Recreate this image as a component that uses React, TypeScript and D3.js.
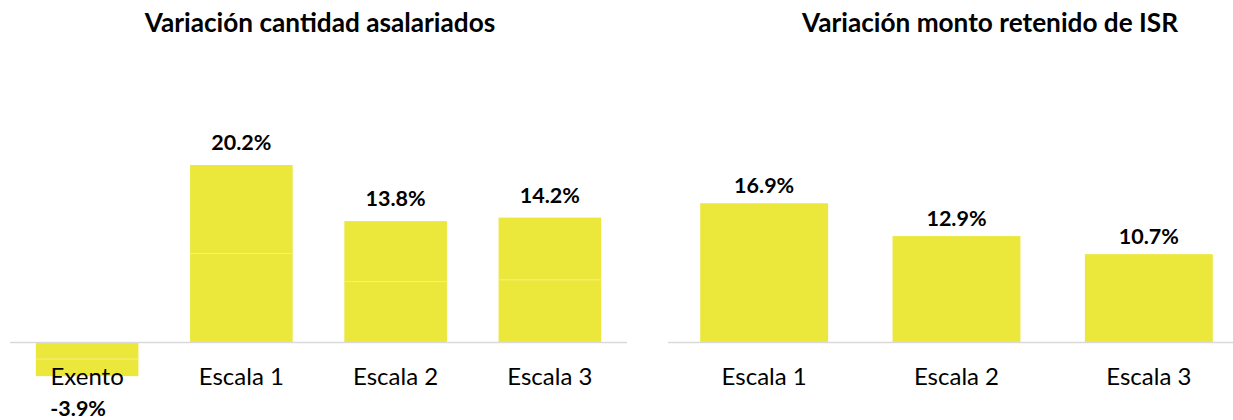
import React from "react";
import * as d3 from "d3";

const leftTitle = "Variación cantidad asalariados";
const leftCategories = ["Exento", "Escala 1", "Escala 2", "Escala 3"];
const leftValues = [-3.9, 20.2, 13.8, 14.2];

const rightTitle = "Variación monto retenido de ISR";
const rightCategories = ["Escala 1", "Escala 2", "Escala 3"];
const rightValues = [16.9, 12.9, 10.7];

const W = 1233;
const H = 420;
const BAR = "#ebe73b";
const AXIS = "#d9d9d9";
const FONT = "Lato, 'Open Sans', sans-serif";

const fmt = (v: number) => `${v.toFixed(1)}%`;

type PanelProps = {
  title: string;
  titleX: number;
  categories: string[];
  values: number[];
  x0: number;
  x1: number;
  axisEnd: number;
  pxPerPct: number;
  labelGap: number;
  midLines: boolean;
};

function Panel({ title, titleX, categories, values, x0, x1, axisEnd, pxPerPct, labelGap, midLines }: PanelProps) {
  const baseY = 342;
  const x = d3.scaleBand<string>().domain(categories).range([x0, x1]).paddingInner(0.335).paddingOuter(0.1675);
  const y = d3.scaleLinear().domain([0, 1]).range([baseY, baseY - pxPerPct]);
  return (
    <g>
      <text x={titleX} y={32} textAnchor="middle" fontFamily={FONT} fontWeight={700} fontSize={26.2} fill="#000">
        {title}
      </text>
      {categories.map((c, i) => {
        const v = values[i];
        const bx = x(c)!;
        const top = Math.min(y(v), y(0));
        const bottom = Math.max(y(v), y(0));
        const mid = y(v / 2);
        return (
          <g key={c}>
            <rect x={bx} y={top} width={x.bandwidth()} height={bottom - top} fill={BAR} />
            {midLines && (
              <line x1={bx} x2={bx + x.bandwidth()} y1={mid} y2={mid} stroke="#f3f08a" strokeWidth={1} />
            )}
          </g>
        );
      })}
      <line x1={x0} x2={axisEnd} y1={baseY + 0.5} y2={baseY + 0.5} stroke={AXIS} strokeWidth={1.6} />
      {categories.map((c, i) => {
        const v = values[i];
        const cx = x(c)! + x.bandwidth() / 2;
        const ly = v >= 0 ? y(v) - labelGap : 416;
        const lx = v >= 0 ? cx : cx - 9;
        return (
          <g key={c + "-t"}>
            <text x={cx} y={385} textAnchor="middle" fontFamily={FONT} fontSize={24} fill="#000">
              {c}
            </text>
            <text x={lx} y={ly} textAnchor="middle" fontFamily={FONT} fontWeight={700} fontSize={21.5} fill="#000">
              {fmt(v)}
            </text>
          </g>
        );
      })}
    </g>
  );
}

export default function App() {
  return (
    <svg width={W} height={H} style={{ position: "absolute", left: 0, top: 0, background: "#fff" }}>
      <rect x={0} y={0} width={W} height={H} fill="#fff" />
      <Panel
        title={leftTitle}
        titleX={320}
        categories={leftCategories}
        values={leftValues}
        x0={10}
        x1={627}
        axisEnd={627}
        pxPerPct={8.76}
        labelGap={15}
        midLines={true}
      />
      <Panel
        title={rightTitle}
        titleX={990}
        categories={rightCategories}
        values={rightValues}
        x0={668}
        x1={1245}
        axisEnd={1233}
        pxPerPct={8.21}
        labelGap={10}
        midLines={false}
      />
    </svg>
  );
}
